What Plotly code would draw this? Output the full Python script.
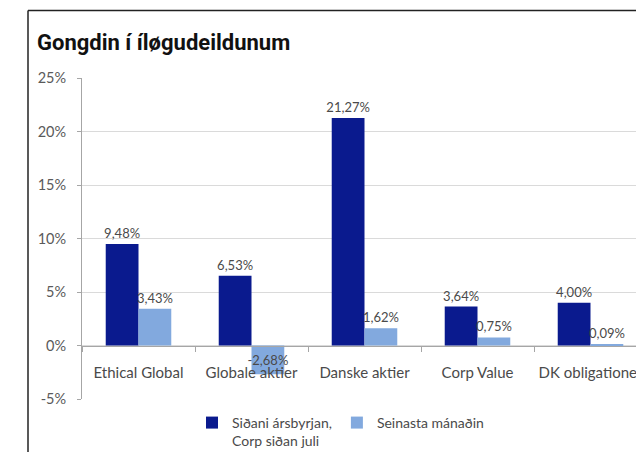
import plotly.graph_objects as go

# fund categories and returns (percent)
categories = ["Ethical Global", "Globale aktier", "Danske aktier", "Corp Value", "DK obligationer"]
since_start = [9.48, 6.53, 21.27, 3.64, 4.00]
last_month = [3.43, -2.68, 1.62, 0.75, 0.09]
series_names = ["Siðani ársbyrjan,<br>Corp siðan juli", "Seinasta mánaðin"]
y_ticks = [-5, 0, 5, 10, 15, 20, 25]
y_ticktext = ["-5%", "0%", "5%", "10%", "15%", "20%", "25%"]

FONT = "Lato, 'Open Sans', sans-serif"
GREY_TXT = "#4a4a4a"

fig = go.Figure()
fig.add_trace(go.Bar(
  x=categories, y=since_start, name=series_names[0],
  marker=dict(color="#0a1a8e", line=dict(width=0)),
  texttemplate="%{y:.2f}%", textposition="outside",
  textfont=dict(size=13, color=GREY_TXT, family=FONT),
  cliponaxis=False,
))
fig.add_trace(go.Bar(
  x=categories, y=last_month, name=series_names[1],
  marker=dict(color="#82a9de", line=dict(width=0)),
  texttemplate="%{y:.2f}%",
  textposition=["inside" if v < 0 else "outside" for v in last_month],
  insidetextanchor="middle",
  textfont=dict(size=13, color=GREY_TXT, family=FONT),
  cliponaxis=False,
))

W, H = 636, 452
left, right, top, bottom = 82, 0, 77.5, 53
plot_w = W - left - right
plot_h = H - top - bottom
cat_w = 113.0


def px_x(x):
  return (x - left) / plot_w


def px_y(y):
  return (top + plot_h - y) / plot_h


fig.update_layout(
  width=W, height=H,
  margin=dict(l=left, r=right, t=top, b=bottom, pad=0, autoexpand=False),
  paper_bgcolor="white", plot_bgcolor="white",
  separators=",.",
  barmode="group", bargap=0.42, bargroupgap=0,
  uniformtext=dict(minsize=13, mode="show"),
  font=dict(family=FONT, color=GREY_TXT),
  title=dict(
    text="<b>Gongdin í íløgudeildunum</b>",
    font=dict(family="Roboto, Lato, sans-serif", size=22, color="#111111"),
    xref="container", yref="container",
    x=37 / W, y=1 - 42 / H, xanchor="left", yanchor="middle",
  ),
  xaxis=dict(
    range=[-0.5, -0.5 + plot_w / cat_w],
    anchor="free", position=5 / 30,
    showline=True, linecolor="#a6a6a6", linewidth=1,
    ticks="outside", tickson="boundaries", ticklen=5, tickcolor="#a6a6a6",
    showgrid=False, zeroline=False,
    tickfont=dict(size=15, color=GREY_TXT, family=FONT),
    ticklabelstandoff=13,
  ),
  yaxis=dict(
    range=[-5, 25], tickvals=y_ticks, ticktext=y_ticktext,
    showline=True, linecolor="#a6a6a6", linewidth=1,
    ticks="outside", ticklen=4, tickcolor="#a6a6a6",
    showgrid=True, gridcolor="#dadada", gridwidth=1, zeroline=False,
    tickfont=dict(size=14.5, color="#5a5a5a", family=FONT),
    ticklabelstandoff=8,
  ),
  showlegend=True,
  legend=dict(
    orientation="h", x=px_x(192), y=px_y(407),
    xanchor="left", yanchor="top",
    font=dict(size=14, color=GREY_TXT, family=FONT),
    valign="top", itemwidth=30, tracegroupgap=0,
    bgcolor="rgba(0,0,0,0)",
  ),
  shapes=[
    # outer frame of the clipped panel
    dict(type="line", xref="paper", yref="paper",
         x0=px_x(28), x1=px_x(28), y0=px_y(10), y1=px_y(H + 5),
         line=dict(color="#222222", width=1.5)),
    dict(type="line", xref="paper", yref="paper",
         x0=px_x(28), x1=px_x(W + 10), y0=px_y(10), y1=px_y(10),
         line=dict(color="#222222", width=1.5)),
  ],
)

# drop the default body margin so the figure sits at the page origin
fig.write_html(
  "out.html",
  config={"displayModeBar": False},
  post_script="document.body.style.margin='0';",
)
